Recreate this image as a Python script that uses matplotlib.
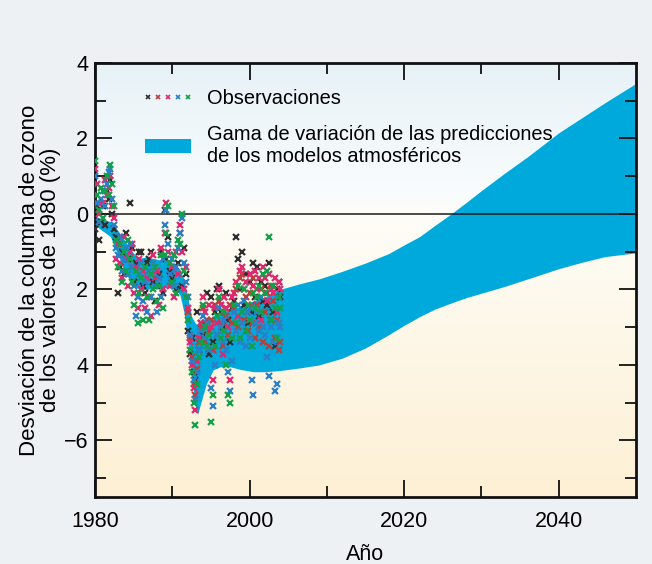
import numpy as np
import matplotlib
matplotlib.use("Agg")
import matplotlib.pyplot as plt
from matplotlib.lines import Line2D
from matplotlib.patches import Patch
from matplotlib.legend_handler import HandlerTuple
from matplotlib.colors import LinearSegmentedColormap

plt.rcParams['font.family'] = ['Liberation Sans', 'DejaVu Sans']

# --- Model prediction range (envelope of atmospheric model runs) ---
band_years = [1980.0, 1981.0, 1982.0, 1983.0, 1984.0, 1985.0, 1985.8, 1986.7,
              1988.4, 1989.7, 1990.5, 1991.0, 1991.5, 1991.9, 1992.5, 1993.0,
              1993.3, 1993.7, 1994.4, 1995.3, 1996.2, 1997.5, 1998.8, 2000.5,
              2002.0, 2003.9, 2006.5, 2009.0, 2012.0, 2015.0, 2018.0, 2020.0,
              2022.0, 2024.0, 2026.2, 2028.0, 2030.0, 2033.0, 2036.0, 2040.0,
              2043.0, 2046.0, 2050.0]
band_upper = [-0.05, -0.15, -0.2, -0.45, -0.75, -1.05, -1.17, -1.14,
              -1.22, -1.26, -1.35, -1.48, -1.75, -2.1, -2.72, -2.9,
              -2.94, -2.92, -2.85, -2.7, -2.62, -2.52, -2.45, -2.3,
              -2.2, -2.0, -1.85, -1.72, -1.52, -1.3, -1.05, -0.82,
              -0.6, -0.3, 0.02, 0.3, 0.62, 1.08, 1.52, 2.15,
              2.55, 2.95, 3.46]
band_lower = [-0.3, -0.45, -0.6, -1.1, -1.6, -1.9, -2.0, -2.0,
              -1.95, -1.95, -2.0, -2.15, -2.6, -3.2, -4.3, -5.1,
              -5.3, -5.0, -4.5, -4.13, -4.05, -4.05, -4.12, -4.18,
              -4.18, -4.15, -4.08, -4.0, -3.82, -3.55, -3.2, -2.95,
              -2.72, -2.52, -2.35, -2.22, -2.1, -1.92, -1.72, -1.45,
              -1.28, -1.13, -1.03]

# --- Observed total ozone deviations, quarterly, five datasets ---
obs_start = 1980.0
obs_black = [-0.4, 0.2, -0.7, -0.2, 0.2, -0.3, 0.6, 0.4, 0.9, 0.0, -0.4, -0.6,
             -2.1, -1.4, -1.0, -1.6, -0.5, -1.2, 0.3, -0.9, -1.8, -1.3, -2.2, -1.0,
             -1.0, -1.9, -2.1, -1.3, -1.2, -1.0, -1.8, -2.3, -1.9, -1.6, -1.0, -2.1,
             0.1, -1.2, -0.6, -1.5, -1.7, -1.1, -2.0, -1.3, -0.5, -1.9, -0.9, -1.6,
             -3.1, -3.7, -3.3, -4.2, -4.4, -2.6, -3.6, -2.9, -3.2, -2.9, -2.1, -3.7,
             -2.2, -3.4, -2.6, -2.0, -1.9, -2.6, -3.0, -2.2, -2.1, -2.8, -3.4, -2.5,
             -2.3, -0.6, -1.2, -2.0, -1.0, -2.4, -1.6, -2.9, -1.8, -2.6, -1.3, -2.2,
             -1.4, -2.7, -1.8, -2.3, -1.9, -2.4, -1.3, -2.8, -2.6, -3.5, -2.0, -1.8,
             -2.2]
obs_magenta = [1.2, 0.8, 0.0, 0.3, 0.3, 0.9, 0.5, 0.7, 1.0, 0.2, -0.1, -1.2,
               -0.8, -1.3, -1.7, -0.6, -1.2, -1.9, -1.0, -0.8, -2.1, -1.4, -2.5, -1.2,
               -2.0, -1.5, -2.5, -1.7, -2.2, -2.7, -1.1, -1.7, -1.5, -2.4, -0.9, -2.0,
               -0.5, 0.3, -1.0, -1.9, -1.4, -2.2, -1.0, -1.6, -0.3, -1.0, -2.0, -1.4,
               -2.5, -3.4, -4.0, -4.6, -5.2, -3.9, -3.3, -2.9, -2.2, -2.6, -3.0, -2.4,
               -3.0, -4.4, -2.5, -2.9, -2.0, -2.4, -3.7, -2.2, -2.5, -3.0, -4.4, -2.2,
               -2.1, -1.8, -2.7, -1.5, -1.4, -2.0, -1.8, -2.6, -1.6, -2.4, -1.9, -1.5,
               -2.0, -1.7, -2.8, -1.4, -1.7, -2.3, -1.6, -2.0, -2.1, -1.7, -2.6, -1.8,
               -2.0]
obs_blue = [1.0, 0.3, -0.2, 0.4, 0.6, 0.2, 0.8, 1.1, 1.2, 0.4, -0.3, -0.9,
            -1.1, -0.6, -1.5, -1.2, -0.9, -1.6, -0.8, -1.4, -1.9, -2.7, -2.2, -1.6,
            -1.3, -2.3, -1.8, -2.6, -1.5, -2.2, -1.3, -1.9, -2.6, -1.7, -2.2, -1.2,
            -0.3, 0.1, -0.8, -1.6, -1.2, -1.9, -1.4, -0.9, -0.5, -0.1, -1.3, -1.8,
            -2.2, -3.2, -3.9, -4.4, -4.9, -4.2, -3.6, -3.1, -2.7, -3.3, -2.9, -3.6,
            -4.6, -5.1, -4.0, -3.2, -2.5, -3.0, -3.4, -2.8, -3.6, -4.2, -4.7, -3.9,
            -2.6, -3.1, -2.4, -3.4, -2.9, -2.3, -3.5, -2.6, -3.3, -4.4, -4.8, -2.9,
            -2.6, -3.1, -2.2, -3.0, -3.2, -3.8, -4.3, -3.0, -3.4, -4.7, -4.5, -2.9,
            -3.0]
obs_green = [1.4, 0.5, 0.1, 0.7, -0.1, 0.6, 1.0, 0.5, 1.3, 0.8, 0.2, -0.7,
             -1.4, -0.8, -1.8, -1.0, -1.5, -0.7, -1.2, -1.8, -2.4, -1.5, -2.9, -2.1,
             -1.7, -2.8, -1.4, -2.2, -2.8, -1.6, -2.0, -1.4, -2.3, -1.9, -1.1, -2.5,
             -1.1, -0.5, 0.2, -1.3, -1.8, -1.1, -2.1, -0.7, -0.8, 0.0, -1.5, -2.2,
             -2.8, -3.6, -4.2, -5.0, -5.6, -4.5, -3.8, -3.4, -2.4, -3.0, -3.5, -3.2,
             -5.5, -4.8, -3.5, -2.7, -2.2, -3.3, -2.6, -3.1, -4.0, -4.8, -5.0, -3.3,
             -2.4, -2.9, -1.9, -3.3, -2.6, -2.0, -3.1, -2.4, -2.8, -3.5, -2.1, -2.5,
             -2.2, -1.9, -2.6, -1.6, -2.1, -1.5, -0.6, -2.8, -1.9, -2.5, -3.3, -2.2,
             -2.5]
obs_red_start = 1992.0
obs_red = [-2.6, -3.3, -3.8, -4.5, -4.8, -4.1, -3.4, -3.0, -2.5, -3.4, -2.8, -3.1,
           -2.8, -3.6, -2.4, -3.2, -2.3, -2.9, -3.5, -2.6, -2.7, -3.2, -2.4, -2.9,
           -2.5, -2.0, -3.0, -1.7, -1.6, -2.8, -2.2, -3.1, -2.1, -2.9, -1.7, -3.3,
           -2.4, -3.0, -2.0, -3.4, -2.6, -2.1, -3.5, -1.9, -2.3, -3.3, -2.8, -3.6,
           -3.4]

ytick_values = [-6, -4, -2, 0, 2, 4]
ytick_labels = ['\u22126', '4', '2', '0', '2', '4']
xtick_values = [1980, 2000, 2020, 2040]

c_band = '#00a9db'
obs_colors = {'black': '#2e2e2e', 'red': '#b8403a', 'magenta': '#e0276f',
              'blue': '#2a80c8', 'green': '#14a04a'}

fig = plt.figure(figsize=(6.52, 5.64), dpi=100, facecolor='#eef1f4')
ax = fig.add_axes([0.1457, 0.1188, 0.8298, 0.7695])

# vertical background gradient: pale blue above, white near zero, pale yellow below
grad_cmap = LinearSegmentedColormap.from_list(
    'bg', [(0.0, '#fdf0d4'), (0.652, '#fefdf7'), (0.70, '#f9fcfd'), (1.0, '#e7f2f7')])
grad = np.linspace(0, 1, 256).reshape(-1, 1)
ax.imshow(grad, cmap=grad_cmap, origin='lower', aspect='auto',
          extent=[1980, 2050, -7.5, 4], zorder=0)

ax.fill_between(band_years, band_lower, band_upper, color=c_band, lw=0, zorder=1)
ax.axhline(0, color='#1a1a1a', lw=1.1, zorder=2)

def quarterly(start, vals):
    return start + 0.25 * np.arange(len(vals))

mkw = dict(marker='x', linestyle='none', markersize=4.0, markeredgewidth=1.6, zorder=3)
series = [(obs_start, obs_black, 'black'), (obs_red_start, obs_red, 'red'),
          (obs_start, obs_magenta, 'magenta'), (obs_start, obs_blue, 'blue'),
          (obs_start, obs_green, 'green')]
for start, vals, key in series:
    ax.plot(quarterly(start, vals), vals, color=obs_colors[key], **mkw)

ax.set_xlim(1980, 2050)
ax.set_ylim(-7.5, 4)
ax.set_xticks(xtick_values)
ax.set_xticks(np.arange(1990, 2050, 20), minor=True)
ax.set_yticks(ytick_values)
ax.set_yticklabels(ytick_labels)
ax.set_yticks([-7, -5, -3, -1, 1, 3], minor=True)
ax.tick_params(which='both', direction='in', top=True, right=True,
               labelsize=15.5, width=1.3, color='#111111')
ax.tick_params(axis='x', which='major', pad=10)
ax.tick_params(axis='y', which='major', pad=5)
ax.tick_params(which='major', length=12)
ax.tick_params(which='minor', length=8)
for sp in ax.spines.values():
    sp.set_linewidth(2.0)
    sp.set_color('#111111')

ax.set_xlabel('Año', fontsize=15.5, labelpad=9)
ax.set_ylabel('Desviación de la columna de ozono\nde los valores de 1980 (%)',
              fontsize=16, labelpad=2, linespacing=1.0)

legend_obs = tuple(Line2D([], [], color=obs_colors[k], marker='x', linestyle='none',
                          markersize=3.2, markeredgewidth=1.2)
                   for k in ['black', 'red', 'magenta', 'blue', 'green'])
legend_band = Patch(facecolor=c_band, edgecolor='none')
ax.legend([legend_obs, legend_band],
          ['Observaciones', 'Gama de variación de las predicciones\nde los modelos atmosféricos'],
          handler_map={tuple: HandlerTuple(ndivide=None, pad=0.2)},
          loc='upper left', bbox_to_anchor=(0.074, 0.963), frameon=False,
          fontsize=14.4, handlelength=2.3, handletextpad=0.8, labelspacing=0.85,
          borderpad=0, numpoints=1)

fig.savefig('out.png', dpi=100, facecolor=fig.get_facecolor())
